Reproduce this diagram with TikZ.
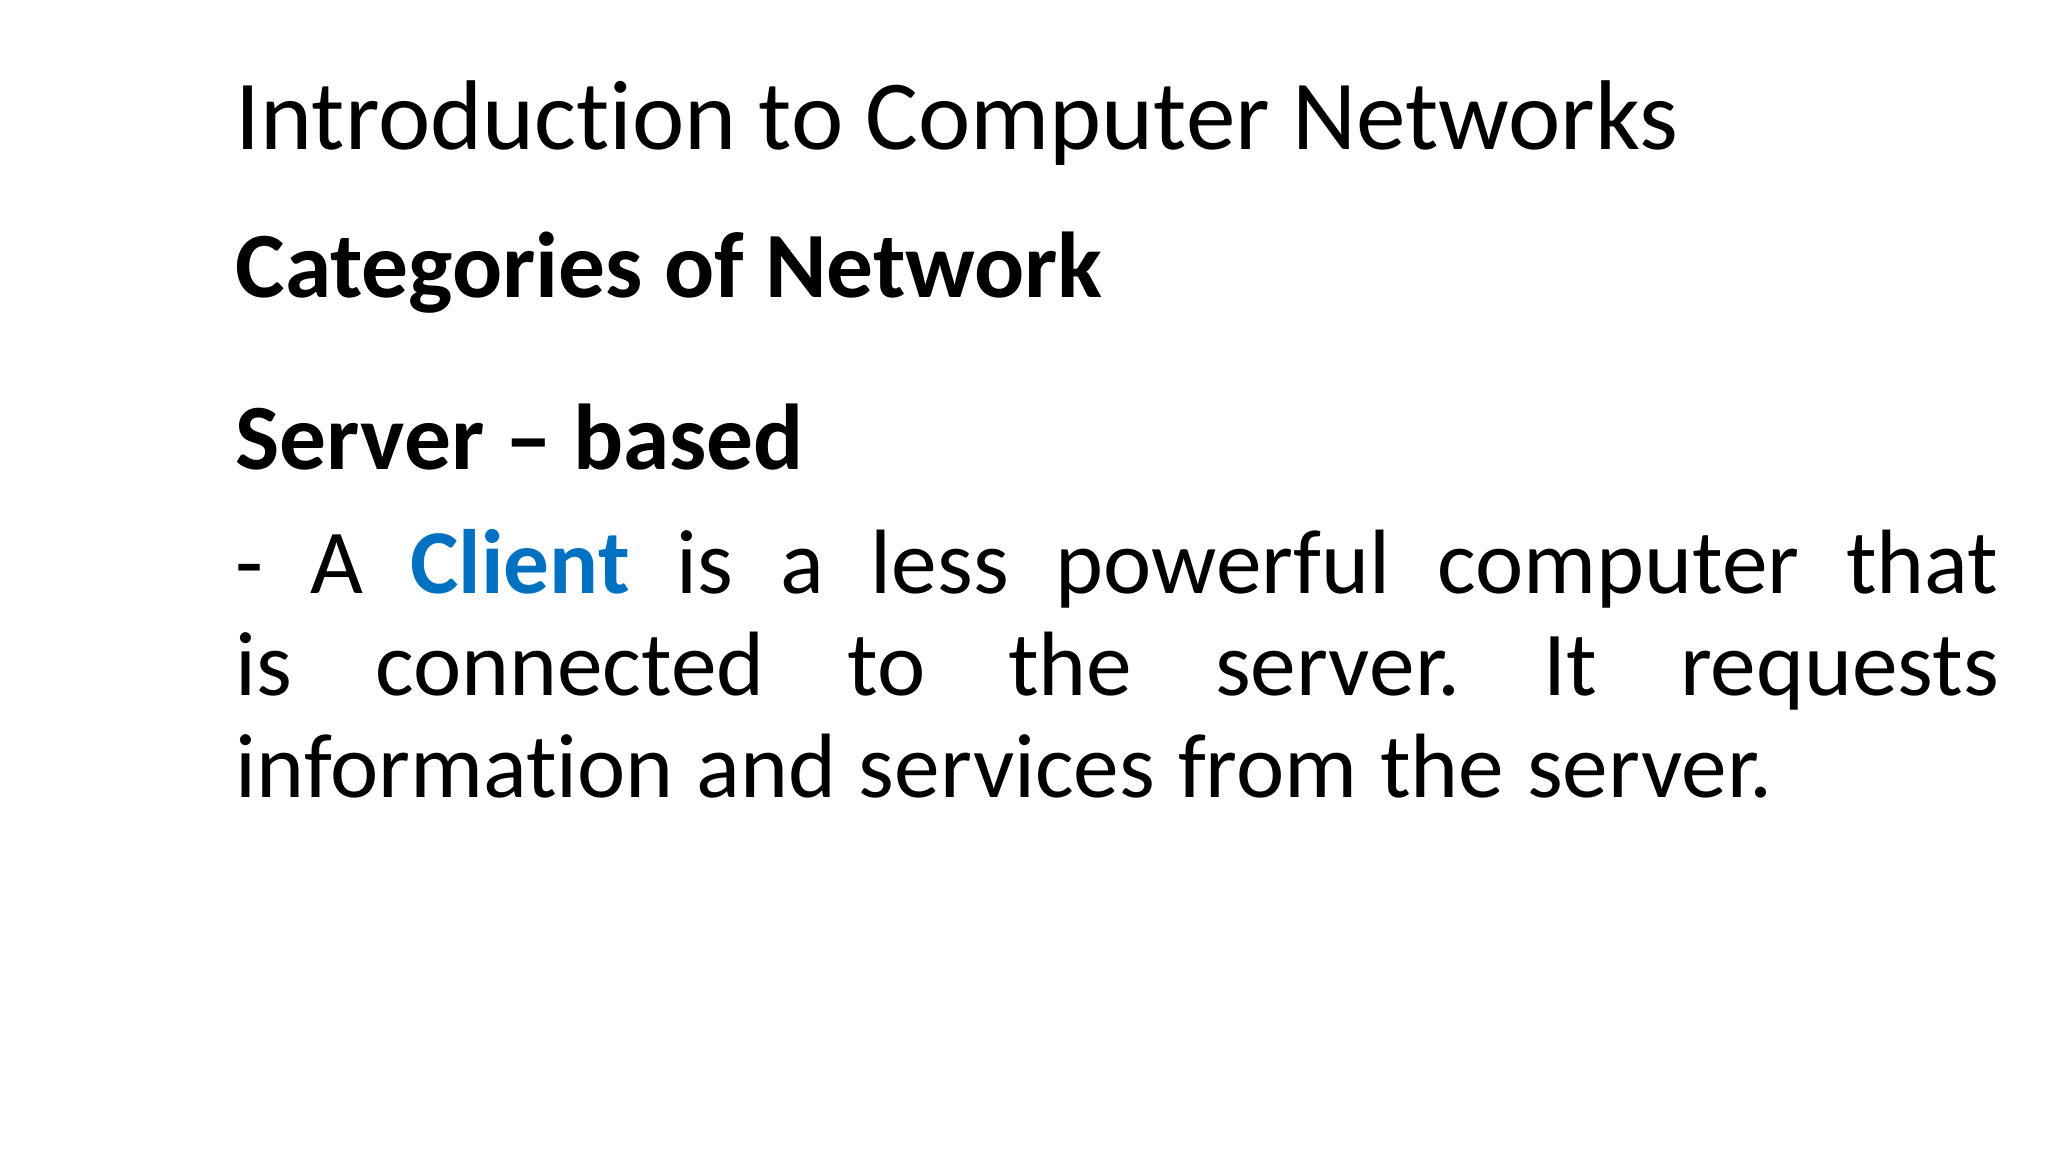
\documentclass[tikz,border=0pt]{standalone}
\usepackage{fontspec}
\setmainfont[Ligatures=NoCommon]{Carlito}
\definecolor{clientblue}{RGB}{0,112,192}
\begin{document}
\begin{tikzpicture}[txt/.style={anchor=base west,inner sep=0pt,text=black}]
\useasboundingbox[fill=white] (0,0) rectangle (20.48,-11.52);
\node[txt,font=\fontsize{28.2pt}{34pt}\selectfont] (title) at (2.35,-1.50) {Introduction to Computer Networks};
\node[txt,font=\fontsize{26.6pt}{32pt}\selectfont\bfseries] (cat) at (2.35,-2.98) {Categories of Network};
\node[txt,font=\fontsize{26.6pt}{32pt}\selectfont\bfseries] (srv) at (2.35,-4.70) {Server -- based};
\node[txt,font=\fontsize{26pt}{29pt}\selectfont] (body) at (2.35,-5.94) {\parbox[t]{17.63cm}{\fontsize{26pt}{29pt}\selectfont\spaceskip=0.25em plus 3em minus 0.05em\xspaceskip=\spaceskip
- A {\bfseries\color{clientblue}Client} is a less powerful computer that is connected to the server. It requests information and services from the server.}};
\end{tikzpicture}
\end{document}
